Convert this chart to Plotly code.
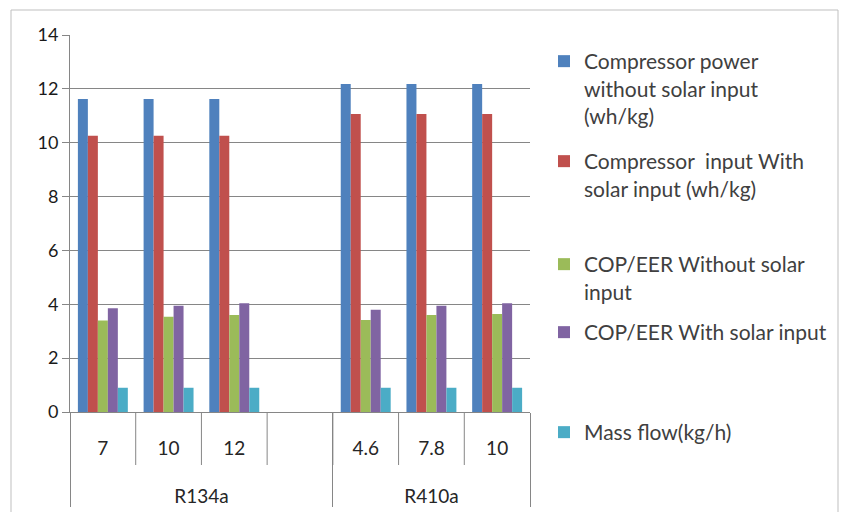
import plotly.graph_objects as go

groups = ["R134a", "R134a", "R134a", "R134a", "R410a", "R410a", "R410a"]
temps = ["7", "10", "12", " ", "4.6", "7.8", "10"]

series_names = [
    "Compressor power<br>without solar input<br>(wh/kg)",
    "Compressor  input With<br>solar input (wh/kg)",
    "COP/EER Without solar<br>input",
    "COP/EER With solar input",
    "Mass flow(kg/h)",
]
comp_no_solar = [11.62, 11.62, 11.62, None, 12.18, 12.18, 12.18]
comp_solar = [10.26, 10.26, 10.26, None, 11.07, 11.07, 11.07]
cop_no_solar = [3.40, 3.54, 3.60, None, 3.42, 3.60, 3.64]
cop_solar = [3.85, 3.95, 4.04, None, 3.80, 3.95, 4.04]
mass_flow = [0.90, 0.90, 0.90, None, 0.90, 0.90, 0.90]
values = [comp_no_solar, comp_solar, cop_no_solar, cop_solar, mass_flow]
colors = ["#4F81BD", "#C0504D", "#9BBB59", "#8064A2", "#4BACC6"]

# unique inner labels (repeat labels get zero-width spaces) + spacer line
seen = {}
inner = []
for t in temps:
    n = seen.get(t, 0)
    seen[t] = n + 1
    inner.append(t + "\u200b" * n + "<br><span style='font-size:54px'>\u00a0</span>")

W, H = 842, 512
ml, mr, mt, mb = 70, 312, 35, 100
pw, ph = W - ml - mr, H - mt - mb

def px_x(p):
    return (p - ml) / pw

def px_y(p):
    return (H - mb - p) / ph

FONT = "Lato"
fig = go.Figure()
legend_tops = [41, 141, 244, 312, 412]
legend_keys = ["legend", "legend2", "legend3", "legend4", "legend5"]
for name, vals, col, lk in zip(series_names, values, colors, legend_keys):
    fig.add_trace(go.Bar(x=[groups, inner], y=vals, name=name, marker_color=col,
                         marker_line_width=0, legend=lk))

layout_legends = {}
for lk, top in zip(legend_keys, legend_tops):
    layout_legends[lk] = dict(x=px_x(544), y=px_y(top), xref="paper", yref="paper",
                              xanchor="left", yanchor="top", valign="top",
                              bgcolor="rgba(0,0,0,0)", itemwidth=30,
                              font=dict(family=FONT, size=21, color="#404040"))

shapes = []
# inner category dividers
for i in range(len(temps) - 1):
    shapes.append(dict(type="line", xref="x", yref="paper", x0=i + 0.5, x1=i + 0.5,
                       y0=0, y1=px_y(465), line=dict(color="#868686", width=1)))
# chart border
shapes.append(dict(type="rect", xref="paper", yref="paper", x0=px_x(11), x1=px_x(838),
                   y0=px_y(520), y1=px_y(10), line=dict(color="#BFBFBF", width=1)))

fig.update_layout(
    width=W, height=H,
    margin=dict(l=ml, r=mr, t=mt, b=mb, autoexpand=False),
    paper_bgcolor="white", plot_bgcolor="white",
    barmode="group", bargap=0.24, bargroupgap=0,
    font=dict(family=FONT, size=19, color="#262626"),
    shapes=shapes,
    showlegend=True,
    **layout_legends,
)
fig.update_xaxes(type="multicategory", showline=True, linecolor="#868686", linewidth=1,
                 showdividers=True, dividercolor="#868686", dividerwidth=1,
                 ticks="", ticklabelstandoff=19,
                 showgrid=False, tickfont=dict(family=FONT, size=19, color="#262626"))
fig.update_yaxes(range=[0, 14], dtick=2, showgrid=True, gridcolor="#868686", gridwidth=1,
                 showline=True, linecolor="#868686", linewidth=1, ticks="outside",
                 ticklen=7, tickcolor="#868686", zeroline=False,
                 tickfont=dict(family=FONT, size=18, color="#1a1a1a"))

fig.write_html("out.html", config={"displayModeBar": False},
               post_script="document.body.style.margin='0';")
